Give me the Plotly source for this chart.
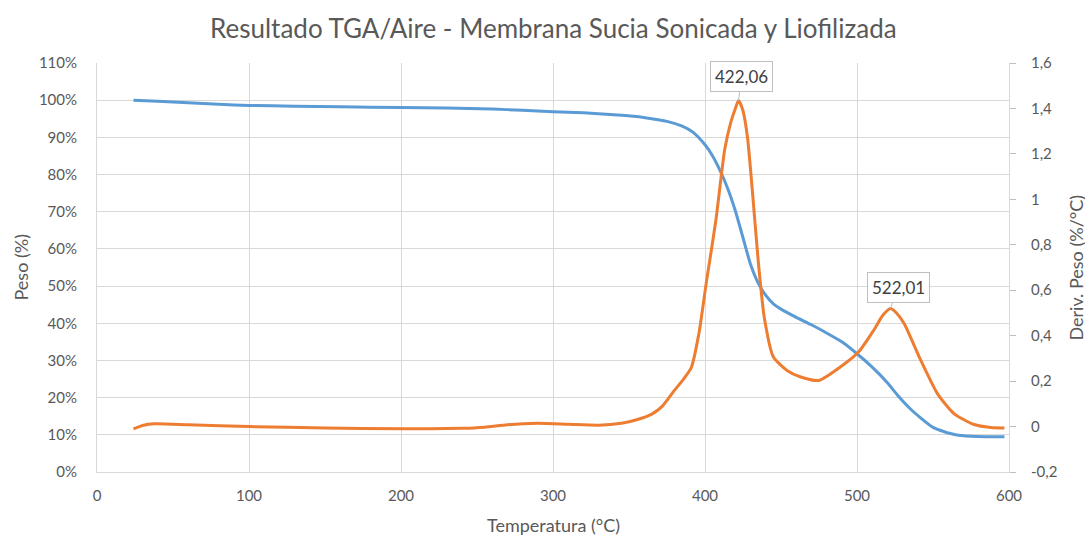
import plotly.graph_objects as go

# TGA curve: temperature (°C) and remaining weight (%)
temp_peso = [24, 40, 60, 80, 100, 130, 160, 200, 230, 260, 280, 300, 320, 340, 355, 365,
             375, 385, 392, 400, 405, 410, 415, 420, 425, 430, 435, 440, 445, 450, 460,
             470, 480, 490, 500, 510, 520, 527, 535, 542, 550, 557, 565, 575, 585, 597]
peso = [100.0, 99.7, 99.3, 98.9, 98.6, 98.4, 98.2, 98.0, 97.9, 97.6, 97.3, 96.9, 96.6, 96.1,
        95.6, 95.0, 94.3, 93.0, 91.4, 88.0, 85.0, 81.0, 76.2, 70.2, 63.0, 55.8, 50.8, 47.5,
        45.2, 43.8, 41.6, 39.6, 37.4, 35.0, 31.8, 28.2, 24.0, 20.5, 17.0, 14.5, 12.0, 10.9,
        10.0, 9.6, 9.5, 9.5]

# DTG curve: temperature (°C) and weight derivative (%/°C)
temp_deriv = [24, 30, 38, 60, 100, 150, 200, 240, 255, 270, 290, 310, 330, 345, 355, 365,
              372, 380, 386, 391, 396, 401, 407, 413, 417, 420, 422.06, 425, 428, 431, 435,
              439, 445, 454, 463, 475, 489, 501, 511, 517, 522.01, 526, 531, 542, 553, 564,
              577, 588, 597]
deriv = [-0.010, 0.005, 0.012, 0.008, 0.0, -0.006, -0.010, -0.008, -0.003, 0.008, 0.014,
         0.010, 0.006, 0.015, 0.030, 0.055, 0.09, 0.16, 0.21, 0.26, 0.41, 0.64, 0.90, 1.22,
         1.34, 1.40, 1.435, 1.39, 1.27, 1.05, 0.73, 0.48, 0.306, 0.247, 0.218, 0.203, 0.262,
         0.328, 0.424, 0.49, 0.52, 0.50, 0.453, 0.291, 0.144, 0.056, 0.009, -0.004, -0.006]

# Peak temperatures labelled on the DTG curve
picos = [422.06, 522.01]

peso_ticks = list(range(0, 111, 10))
peso_ticktext = [f"{v}%" for v in peso_ticks]
deriv_ticks = [-0.2, 0, 0.2, 0.4, 0.6, 0.8, 1.0, 1.2, 1.4, 1.6]
deriv_ticktext = ["-0,2", "0", "0,2", "0,4", "0,6", "0,8", "1", "1,2", "1,4", "1,6"]

FONT = "Lato, 'Open Sans', sans-serif"
GRID = "#d9d9d9"
TXT = "#595959"

fig = go.Figure()
fig.add_trace(go.Scatter(x=temp_peso, y=peso, mode="lines", name="Peso",
                         line=dict(color="#5b9bd5", width=3, shape="spline", smoothing=0.6),
                         yaxis="y"))
fig.add_trace(go.Scatter(x=temp_deriv, y=deriv, mode="lines", name="Deriv. Peso",
                         line=dict(color="#ed7d31", width=3, shape="spline", smoothing=0.6),
                         yaxis="y2"))

annotations = []
for t, dx, dy in [(picos[0], 3, -24), (picos[1], 8, -21)]:
    v = deriv[temp_deriv.index(t)]
    annotations.append(dict(
        x=t, y=v, xref="x", yref="y2", text=f"{t:.2f}".replace(".", ","),
        showarrow=True, arrowhead=0, arrowwidth=1, arrowcolor="#bfbfbf",
        ax=dx, ay=dy, bgcolor="white", bordercolor="#bfbfbf", borderwidth=1,
        borderpad=4, font=dict(family=FONT, size=17, color="#404040")))

annotations += [
    dict(text="Peso (%)", xref="paper", yref="paper", x=0, y=0.5, xshift=-77,
         xanchor="center", yanchor="middle",
         textangle=-90, showarrow=False, font=dict(family=FONT, size=18, color=TXT)),
    dict(text="Deriv. Peso (%/°C)", xref="paper", yref="paper", x=1, y=0.5, xshift=66,
         xanchor="center", yanchor="middle",
         textangle=-90, showarrow=False, font=dict(family=FONT, size=18, color=TXT)),
    dict(text="Temperatura (°C)", xref="paper", yref="paper", x=0.5, y=0, yshift=-53,
         xanchor="center", yanchor="middle",
         showarrow=False, font=dict(family=FONT, size=18, color=TXT)),
]

fig.update_layout(
    width=1085, height=537,
    margin=dict(l=97, r=76, t=63, b=65),
    paper_bgcolor="white", plot_bgcolor="white",
    showlegend=False,
    title=dict(text="Resultado TGA/Aire - Membrana Sucia Sonicada y Liofilizada",
               x=0.51, xanchor="center", y=0.947, yanchor="middle",
               font=dict(family=FONT, size=26, color=TXT)),
    xaxis=dict(range=[0, 600], tickvals=[0, 100, 200, 300, 400, 500, 600],
               showgrid=True, gridcolor=GRID, gridwidth=1, zeroline=False,
               showline=True, linecolor=GRID, ticks="", ticklabelstandoff=10,
               tickfont=dict(family=FONT, size=15, color=TXT)),
    yaxis=dict(range=[0, 110], tickvals=peso_ticks, ticktext=peso_ticktext,
               showgrid=True, gridcolor=GRID, gridwidth=1, zeroline=False,
               showline=True, linecolor=GRID, ticks="", ticklabelstandoff=16,
               tickfont=dict(family=FONT, size=15, color=TXT)),
    yaxis2=dict(range=[-0.2, 1.6], tickvals=deriv_ticks, ticktext=deriv_ticktext,
                overlaying="y", side="right", showgrid=False, zeroline=False,
                showline=True, linecolor=GRID, ticks="outside", ticklen=6,
                tickcolor="#bfbfbf", ticklabelstandoff=12,
                tickfont=dict(family=FONT, size=15, color=TXT)),
    annotations=annotations,
)

fig.write_html("out.html")
